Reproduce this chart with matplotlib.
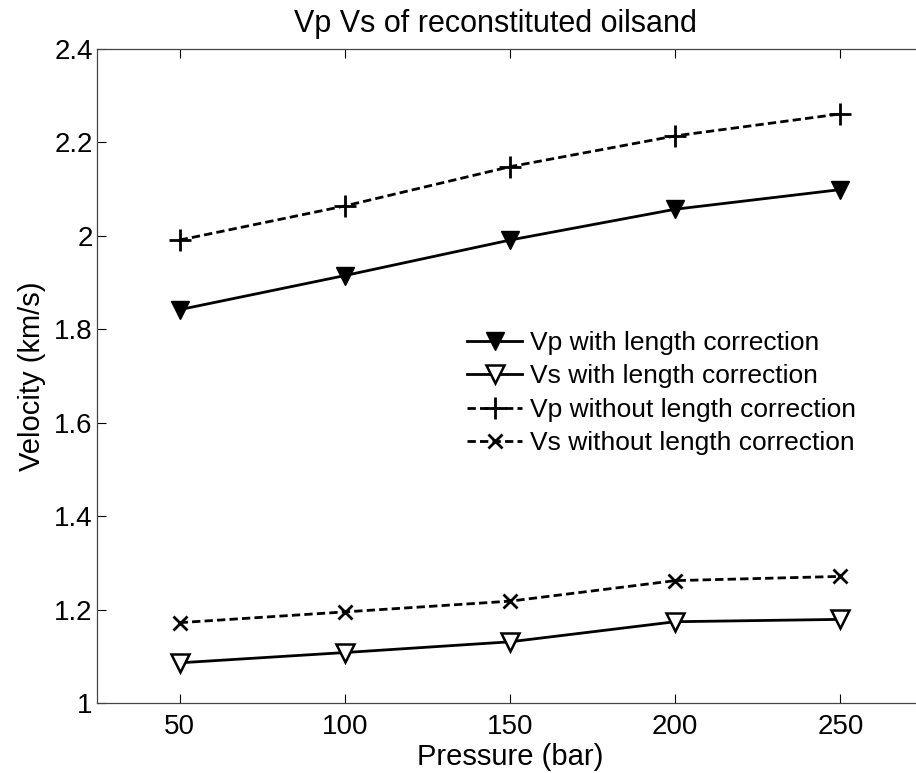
import matplotlib
matplotlib.use("Agg")
import matplotlib.pyplot as plt

plt.rcParams['font.family'] = ['Liberation Sans', 'DejaVu Sans']

pressure = [50, 100, 150, 200, 250]
vp_corr = [1.842, 1.915, 1.991, 2.057, 2.099]
vs_corr = [1.086, 1.108, 1.131, 1.174, 1.179]
vp_raw = [1.991, 2.064, 2.148, 2.214, 2.261]
vs_raw = [1.172, 1.195, 1.218, 1.262, 1.271]

labels = ["Vp with length correction", "Vs with length correction",
          "Vp without length correction", "Vs without length correction"]
xticks = [50, 100, 150, 200, 250]
yticks = [1, 1.2, 1.4, 1.6, 1.8, 2, 2.2, 2.4]
yticklabels = ["1", "1.2", "1.4", "1.6", "1.8", "2", "2.2", "2.4"]

fig = plt.figure(figsize=(9.16, 7.73), dpi=100)
ax = fig.add_axes([97 / 916, 70 / 773, 826 / 916, 654 / 773])

ax.plot(pressure, vp_corr, '-', color='black', lw=2.0, marker='v', ms=13,
        mfc='black', mec='black', label=labels[0])
ax.plot(pressure, vs_corr, '-', color='black', lw=2.0, marker='v', ms=13,
        mfc='white', mec='black', mew=1.8, label=labels[1])
ax.plot(pressure, vp_raw, '--', color='black', lw=2.0, marker='+', ms=16,
        mew=2.0, label=labels[2], dashes=(3, 1.5))
ax.plot(pressure, vs_raw, '--', color='black', lw=2.0, marker='x', ms=10,
        mew=2.0, label=labels[3], dashes=(3, 1.5))

ax.set_xlim(25, 275)
ax.set_ylim(1, 2.4)
ax.set_xticks(xticks)
ax.set_yticks(yticks)
ax.set_yticklabels(yticklabels)
ax.tick_params(direction='in', length=6.5, width=0.8, top=True, right=False,
               labelsize=20, colors='black')
ax.tick_params(axis='x', pad=8)
ax.tick_params(axis='y', pad=3)
for sp in ax.spines.values():
    sp.set_linewidth(0.9)
    sp.set_color('#444444')

ax.set_xlabel("Pressure (bar)", fontsize=21, labelpad=2)
ax.set_ylabel("Velocity (km/s)", fontsize=21, labelpad=6)
ax.set_title("Vp Vs of reconstituted oilsand", fontsize=22, x=0.482, pad=12)

leg = ax.legend(loc='upper left', bbox_to_anchor=(0.435, 0.585), frameon=False,
                fontsize=19, handlelength=2.1, handletextpad=0.3,
                labelspacing=0.36, borderaxespad=0)

fig.savefig("out.png", dpi=100)
